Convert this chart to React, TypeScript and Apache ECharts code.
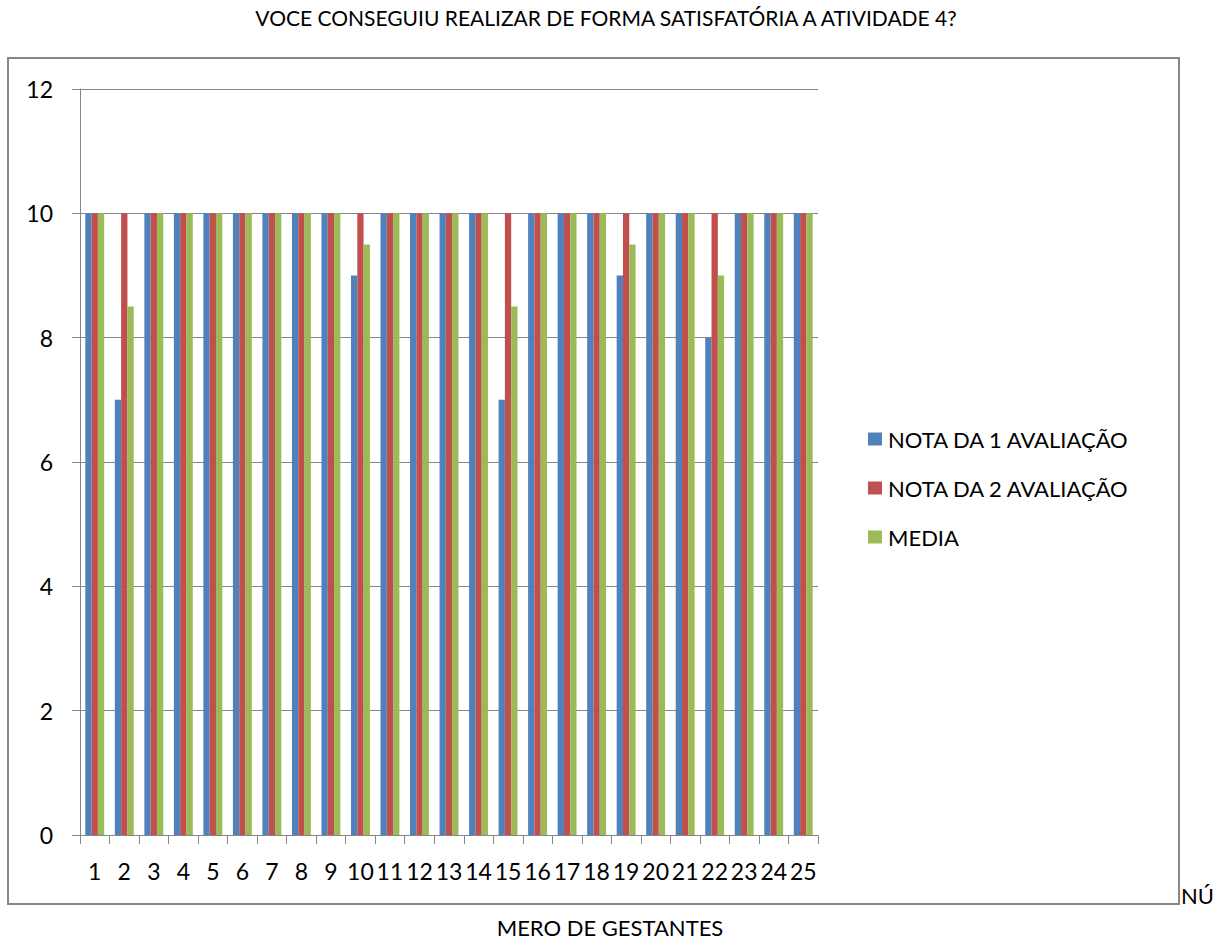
import React, { useEffect, useRef } from "react";
import * as echarts from "echarts";

const categories = ["1","2","3","4","5","6","7","8","9","10","11","12","13","14","15","16","17","18","19","20","21","22","23","24","25"];
const nota1 = [10,7,10,10,10,10,10,10,10,9,10,10,10,10,7,10,10,10,9,10,10,8,10,10,10];
const nota2 = [10,10,10,10,10,10,10,10,10,10,10,10,10,10,10,10,10,10,10,10,10,10,10,10,10];
const media = [10,8.5,10,10,10,10,10,10,10,9.5,10,10,10,10,8.5,10,10,10,9.5,10,10,9,10,10,10];
const seriesNames = ["NOTA DA 1 AVALIAÇÃO", "NOTA DA 2 AVALIAÇÃO", "MEDIA"];
const colors = ["#4F81BD", "#C0504D", "#9BBB59"];

const FONT = "Lato, 'Open Sans', sans-serif";

export default function App() {
  const ref = useRef<HTMLDivElement>(null);
  useEffect(() => {
    document.body.style.margin = "0";
    const chart = echarts.init(ref.current!, null, { renderer: "svg" });
    const values = [nota1, nota2, media];
    chart.setOption({
      animation: false,
      backgroundColor: "#ffffff",
      textStyle: { fontFamily: FONT },
      grid: { left: 80, right: 409, top: 89, bottom: 111, containLabel: false },
      legend: {
        orient: "vertical",
        left: 863,
        top: 423,
        itemWidth: 14,
        itemHeight: 13,
        itemGap: 27,
        icon: "rect",
        textStyle: { fontFamily: FONT, fontSize: 22, color: "#000", padding: [0, 0, 0, 1] },
        data: seriesNames,
      },
      xAxis: {
        type: "category",
        data: categories,
        axisLine: { lineStyle: { color: "#868686", width: 1 } },
        axisTick: { show: true, length: 9, alignWithLabel: false, lineStyle: { color: "#868686" } },
        axisLabel: { interval: 0, margin: 24, fontSize: 23, color: "#000", fontFamily: FONT },
        splitLine: { show: false },
      },
      yAxis: {
        type: "value",
        min: 0,
        max: 12,
        interval: 2,
        axisLine: { show: true, lineStyle: { color: "#868686", width: 1 } },
        axisTick: { show: true, length: 8, lineStyle: { color: "#868686" } },
        axisLabel: { margin: 27, fontSize: 23, color: "#000", fontFamily: FONT },
        splitLine: { show: true, lineStyle: { color: "#868686", width: 1 } },
      },
      series: seriesNames.map((name, i) => ({
        name,
        type: "bar",
        data: values[i],
        barGap: "0%",
        barCategoryGap: "36%",
        itemStyle: { color: colors[i] },
      })),
      graphic: [
        {
          type: "rect",
          shape: { x: 8, y: 58, width: 1171, height: 846 },
          style: { fill: "none", stroke: "#868686", lineWidth: 2 },
          z: -1,
        },
        {
          type: "text",
          x: 606,
          y: 17,
          style: {
            text: "VOCE CONSEGUIU REALIZAR DE FORMA SATISFATÓRIA A ATIVIDADE 4?",
            fontFamily: FONT,
            fontSize: 21,
            fill: "#000",
            align: "center",
            verticalAlign: "middle",
          },
        },
        {
          type: "text",
          x: 1181,
          y: 895,
          style: {
            text: "NÚ",
            fontFamily: FONT,
            fontSize: 22,
            fill: "#000",
            align: "left",
            verticalAlign: "middle",
          },
        },
        {
          type: "text",
          x: 610,
          y: 927,
          style: {
            text: "MERO DE GESTANTES",
            fontFamily: FONT,
            fontSize: 22,
            fill: "#000",
            align: "center",
            verticalAlign: "middle",
          },
        },
      ],
    });
    return () => chart.dispose();
  }, []);
  return <div ref={ref} style={{ width: 1227, height: 946 }} />;
}
